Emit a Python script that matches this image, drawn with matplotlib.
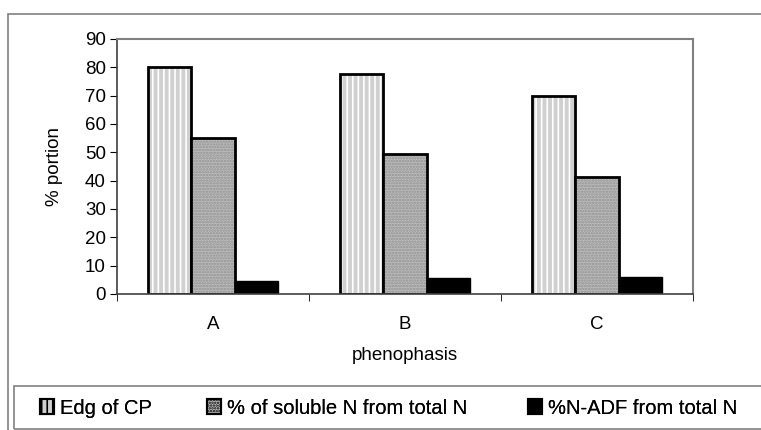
import numpy as np
import matplotlib
matplotlib.use("Agg")
import matplotlib.pyplot as plt
from matplotlib.patches import Rectangle, Patch

plt.rcParams['font.family'] = ['Liberation Sans', 'DejaVu Sans']
plt.rcParams['hatch.linewidth'] = 1.2

groups = ["A", "B", "C"]
series = ["Edg of CP", "% of soluble N from total N", "%N-ADF from total N"]
edg_cp = [80, 77.5, 70]
soluble_n = [55, 49.3, 41.4]
n_adf = [4.6, 5.6, 6]

fs = 13.5

fig = plt.figure(figsize=(7.61, 4.30), dpi=100)
ax = fig.add_axes([117/761, 1-294/430, (693-117)/761, (294-39)/430])

x = np.arange(len(groups))
w = 0.224

# first series: light grey with white vertical stripes
ax.bar(x - w, edg_cp, w, color="#d0d0d0", edgecolor="white", hatch="|||", linewidth=0)
ax.bar(x - w, edg_cp, w, fill=False, edgecolor="black", linewidth=2)
# second series: dotted grey
ax.bar(x, soluble_n, w, color="#bdbdbd", edgecolor="#909090", hatch="......", linewidth=0)
ax.bar(x, soluble_n, w, fill=False, edgecolor="black", linewidth=2)
# third series: solid black
ax.bar(x + w, n_adf, w, color="black", edgecolor="black", linewidth=1)

ax.set_xlim(-0.5, 2.5)
ax.set_ylim(0, 90)
ax.set_yticks(np.arange(0, 91, 10))
ax.set_xticks(x)
ax.set_xticklabels(groups)
ax.set_xticks([-0.5, 0.5, 1.5, 2.5], minor=True)
ax.tick_params(axis="x", which="major", length=0, pad=16, labelsize=fs)
ax.tick_params(axis="x", which="minor", length=5, direction="out", color="black")
ax.tick_params(axis="y", length=5, direction="out", labelsize=fs, pad=3)

for s in ["top", "right"]:
    ax.spines[s].set_color("#808080")
    ax.spines[s].set_linewidth(1.5)
for s in ["left", "bottom"]:
    ax.spines[s].set_color("#404040")
    ax.spines[s].set_linewidth(1.2)

ax.set_xlabel("phenophasis", fontsize=fs, labelpad=10)
ax.set_ylabel("% portion", fontsize=fs, labelpad=16)

# chart border and legend frame
fig.patches.append(Rectangle((8/761, -0.1), 1.1, 1 - 14/430 + 0.1, transform=fig.transFigure,
                             fill=False, edgecolor="#808080", linewidth=1.2))
fig.patches.append(Rectangle((14/761, 1/430), 1.1, (430-387)/430, transform=fig.transFigure,
                             fill=False, edgecolor="#808080", linewidth=1.2))

handles = [
    Patch(facecolor="#d0d0d0", edgecolor="black", hatch="|||", linewidth=1.5),
    Patch(facecolor="#bdbdbd", edgecolor="black", hatch="......", linewidth=1.5),
    Patch(facecolor="black", edgecolor="black", linewidth=1.5),
]
legend_x = [40, 207, 528]
for h, label, lx in zip(handles, series, legend_x):
    leg = fig.legend([h], [label], loc="center left", bbox_to_anchor=(lx/761, 1 - 408/430),
                     frameon=False, fontsize=14.5, handlelength=0.7, handleheight=0.7,
                     handletextpad=0.3, borderpad=0, borderaxespad=0)
    fig.add_artist(leg)

fig.savefig("out.png", dpi=100)
